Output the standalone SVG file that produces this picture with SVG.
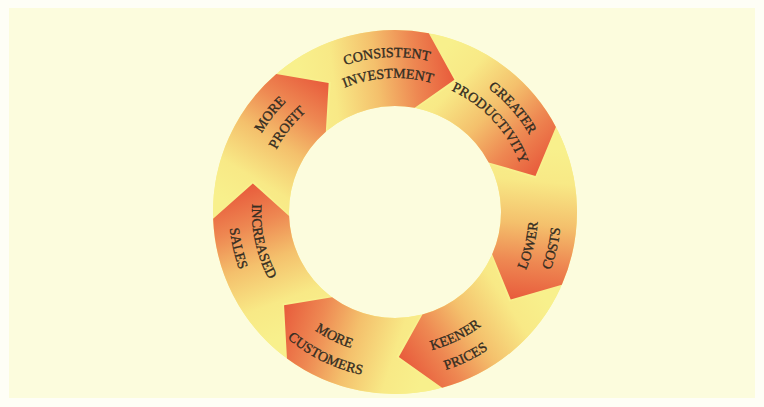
<svg xmlns="http://www.w3.org/2000/svg" width="764" height="407" viewBox="0 0 764 407">
<style>
  .lbl { font-family: "Liberation Serif", "Times New Roman", serif; font-size: 14px; fill: #342d22; stroke: #342d22; stroke-width: 0.35; text-anchor: middle; }
  .ring { fill: none; stroke: #f8f08c; stroke-width: 76; }
</style>
<defs>
  <linearGradient id="g" gradientUnits="userSpaceOnUse" x1="302" y1="100" x2="454" y2="80">
    <stop offset="0" stop-color="#f8f08c"/>
    <stop offset="0.22" stop-color="#f8e986"/>
    <stop offset="0.5" stop-color="#f4c06c"/>
    <stop offset="0.75" stop-color="#ee8852"/>
    <stop offset="1" stop-color="#e85c3c"/>
  </linearGradient>
  <path id="arrow" d="M278.67,72.03 A182,182 0 0 1 428.79,33.16 L454.44,79.74 L414.68,107.84 A106,106 0 0 0 327.25,130.48 L330.91,81.93 Z" fill="url(#g)"/>
  <path id="cw1" d="M448.01,66.35 A155,155 0 0 1 448.01,357.65"/>
  <path id="cw2" d="M440.83,86.08 A134,134 0 0 1 440.83,337.92"/>
  <path id="ccw1" d="M443.91,346.38 A143,143 0 0 0 443.91,77.62"/>
  <path id="ccw2" d="M451.78,367.99 A166,166 0 0 0 451.78,56.01"/>
</defs>
<rect x="0" y="0" width="764" height="407" fill="#fefef6"/>
<rect x="9" y="8" width="746" height="390" fill="#fcfcdd"/>
<g id="connectors">
  <circle class="ring" cx="395" cy="212" r="144"/>
</g>
<g id="consistent-investment">
  <use href="#arrow"/>
  <text class="lbl" transform="rotate(267 395 212)"><textPath href="#cw1" startOffset="50%">CONSISTENT</textPath></text>
  <text class="lbl" transform="rotate(267 395 212)"><textPath href="#cw2" startOffset="50%">INVESTMENT</textPath></text>
</g>
<g id="greater-productivity">
  <use href="#arrow" transform="rotate(51.4286 395 212)"/>
  <text class="lbl" transform="rotate(318.5 395 212)"><textPath href="#cw1" startOffset="50%">GREATER</textPath></text>
  <text class="lbl" transform="rotate(317 395 212)"><textPath href="#cw2" startOffset="50%">PRODUCTIVITY</textPath></text>
</g>
<g id="lower-costs">
  <use href="#arrow" transform="rotate(102.857 395 212)"/>
  <text class="lbl" transform="rotate(14 395 212)"><textPath href="#ccw1" startOffset="50%">LOWER</textPath></text>
  <text class="lbl" transform="rotate(13 395 212)"><textPath href="#ccw2" startOffset="50%">COSTS</textPath></text>
</g>
<g id="keener-prices">
  <use href="#arrow" transform="rotate(154.286 395 212)"/>
  <text class="lbl" transform="rotate(64 395 212)"><textPath href="#ccw1" startOffset="50%">KEENER</textPath></text>
  <text class="lbl" transform="rotate(64 395 212)"><textPath href="#ccw2" startOffset="50%">PRICES</textPath></text>
</g>
<g id="more-customers">
  <use href="#arrow" transform="rotate(205.714 395 212)"/>
  <text class="lbl" transform="rotate(116 395 212)"><textPath href="#ccw1" startOffset="50%">MORE</textPath></text>
  <text class="lbl" transform="rotate(116 395 212)"><textPath href="#ccw2" startOffset="50%">CUSTOMERS</textPath></text>
</g>
<g id="increased-sales">
  <use href="#arrow" transform="rotate(257.143 395 212)"/>
  <text class="lbl" transform="rotate(167.5 395 212)"><textPath href="#ccw1" startOffset="50%">INCREASED</textPath></text>
  <text class="lbl" transform="rotate(167 395 212)"><textPath href="#ccw2" startOffset="50%">SALES</textPath></text>
</g>
<g id="more-profit">
  <use href="#arrow" transform="rotate(308.571 395 212)"/>
  <text class="lbl" transform="rotate(218 395 212)"><textPath href="#cw1" startOffset="50%">MORE</textPath></text>
  <text class="lbl" transform="rotate(218 395 212)"><textPath href="#cw2" startOffset="50%">PROFIT</textPath></text>
</g>
</svg>
